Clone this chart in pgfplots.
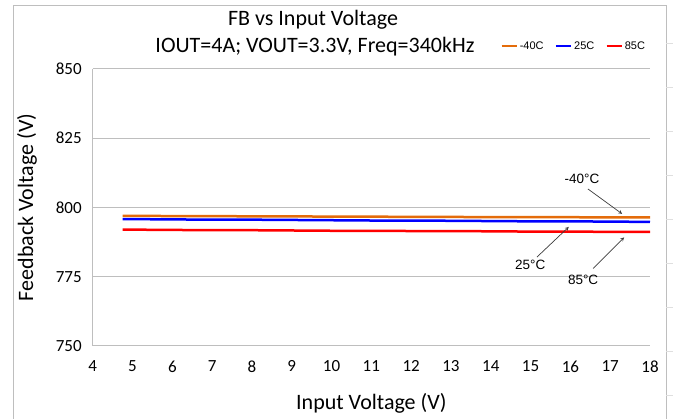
\documentclass[border=0pt]{standalone}
\usepackage{fontspec}
\setmainfont{Carlito}
\newfontfamily\arial{Liberation Sans}
\usepackage{pgfplots}
\usepackage{pgfplotstable}
\pgfplotsset{compat=1.18}

\definecolor{cold}{RGB}{228,108,10}
\definecolor{room}{RGB}{0,0,255}
\definecolor{hot}{RGB}{255,0,0}
\definecolor{gridgray}{RGB}{190,190,190}
\definecolor{arrowgray}{RGB}{60,60,60}

% FB voltage vs input voltage, one column per temperature
\pgfplotstableread{
vin   m40    p25    p85
4.75  797.0  795.8  792.0
5     797.0  795.8  792.0
6     796.9  795.7  791.9
7     796.9  795.6  791.8
8     796.8  795.6  791.8
9     796.8  795.5  791.7
10    796.7  795.4  791.6
11    796.7  795.3  791.6
12    796.6  795.3  791.5
13    796.6  795.2  791.5
14    796.5  795.1  791.4
15    796.5  795.0  791.3
16    796.5  795.0  791.3
17    796.4  794.9  791.2
18    796.4  794.8  791.2
}\fbdata

\begin{document}
\begin{tikzpicture}[x=1pt,y=1pt]
\path[use as bounding box] (0,0) rectangle (673,419);
\draw[gridgray] (13,-2) rectangle (666,414);
% faint spreadsheet cells behind the chart
\foreach \yy in {24,68,112,156,200,244,288,332,376} \draw[gray!25] (666,\yy) -- (673,\yy);

\node[font=\fontsize{22}{26}\selectfont] at (313,399) {FB vs Input Voltage};
\node[font=\fontsize{22}{26}\selectfont] at (315,372) {IOUT=4A; VOUT=3.3V, Freq=340kHz};

\begin{axis}[
    at={(92.7pt,73pt)}, anchor=south west,
    scale only axis, width=557.3pt, height=277pt,
    xmin=4, xmax=18, ymin=750, ymax=850,
    xtick={4,5,...,18}, ytick={750,775,...,850},
    axis x line*=bottom, axis y line*=left,
    axis line style={gridgray, line width=1pt},
    ymajorgrids, grid style={gridgray, line width=1pt},
    major tick length=0pt,
    tick label style={font=\fontsize{17}{19}\selectfont},
    x tick label style={yshift=-11pt},
    y tick label style={xshift=-7.5pt},
    /pgf/number format/assume math mode=true,
    xlabel={Input Voltage (V)}, ylabel={Feedback Voltage (V)},
    label style={font=\fontsize{22}{26}\selectfont},
    xlabel style={at={(axis description cs:0.5,0)}, anchor=center, yshift=-57pt},
    ylabel style={at={(axis description cs:0,0.5)}, anchor=center, yshift=65.7pt},
    legend columns=3,
    legend style={at={(axis description cs:0.995,1.083)}, anchor=east, draw=none, fill=none,
        font=\arial\fontsize{11}{13}\selectfont, inner sep=0pt,
        /tikz/every even column/.append style={column sep=9pt}},
    legend image code/.code={\draw[#1, line width=2.5pt] (0pt,0pt) -- (15pt,0pt);},
    legend cell align=left,
]
\addplot[cold, line width=2.5pt] table[x=vin, y=m40] {\fbdata};
\addplot[room, line width=2.5pt] table[x=vin, y=p25] {\fbdata};
\addplot[hot, line width=2.5pt] table[x=vin, y=p85] {\fbdata};
\legend{-40C, 25C, 85C}

\node[font=\arial\fontsize{13.5}{15}\selectfont] at (axis cs:16.29,810.3) {-40\textdegree C};
\node[font=\arial\fontsize{13.5}{15}\selectfont] at (axis cs:14.99,779.2) {25\textdegree C};
\node[font=\arial\fontsize{13.5}{15}\selectfont] at (axis cs:16.32,773.8) {85\textdegree C};
\draw[arrowgray, line width=0.7pt, -stealth] (axis cs:16.44,806.7) -- (axis cs:17.30,797.7);
\draw[arrowgray, line width=0.7pt, -stealth] (axis cs:15.16,782.1) -- (axis cs:15.96,793.0);
\draw[arrowgray, line width=0.7pt, -stealth] (axis cs:16.57,778.0) -- (axis cs:17.35,789.2);
\end{axis}
\end{tikzpicture}
\end{document}
